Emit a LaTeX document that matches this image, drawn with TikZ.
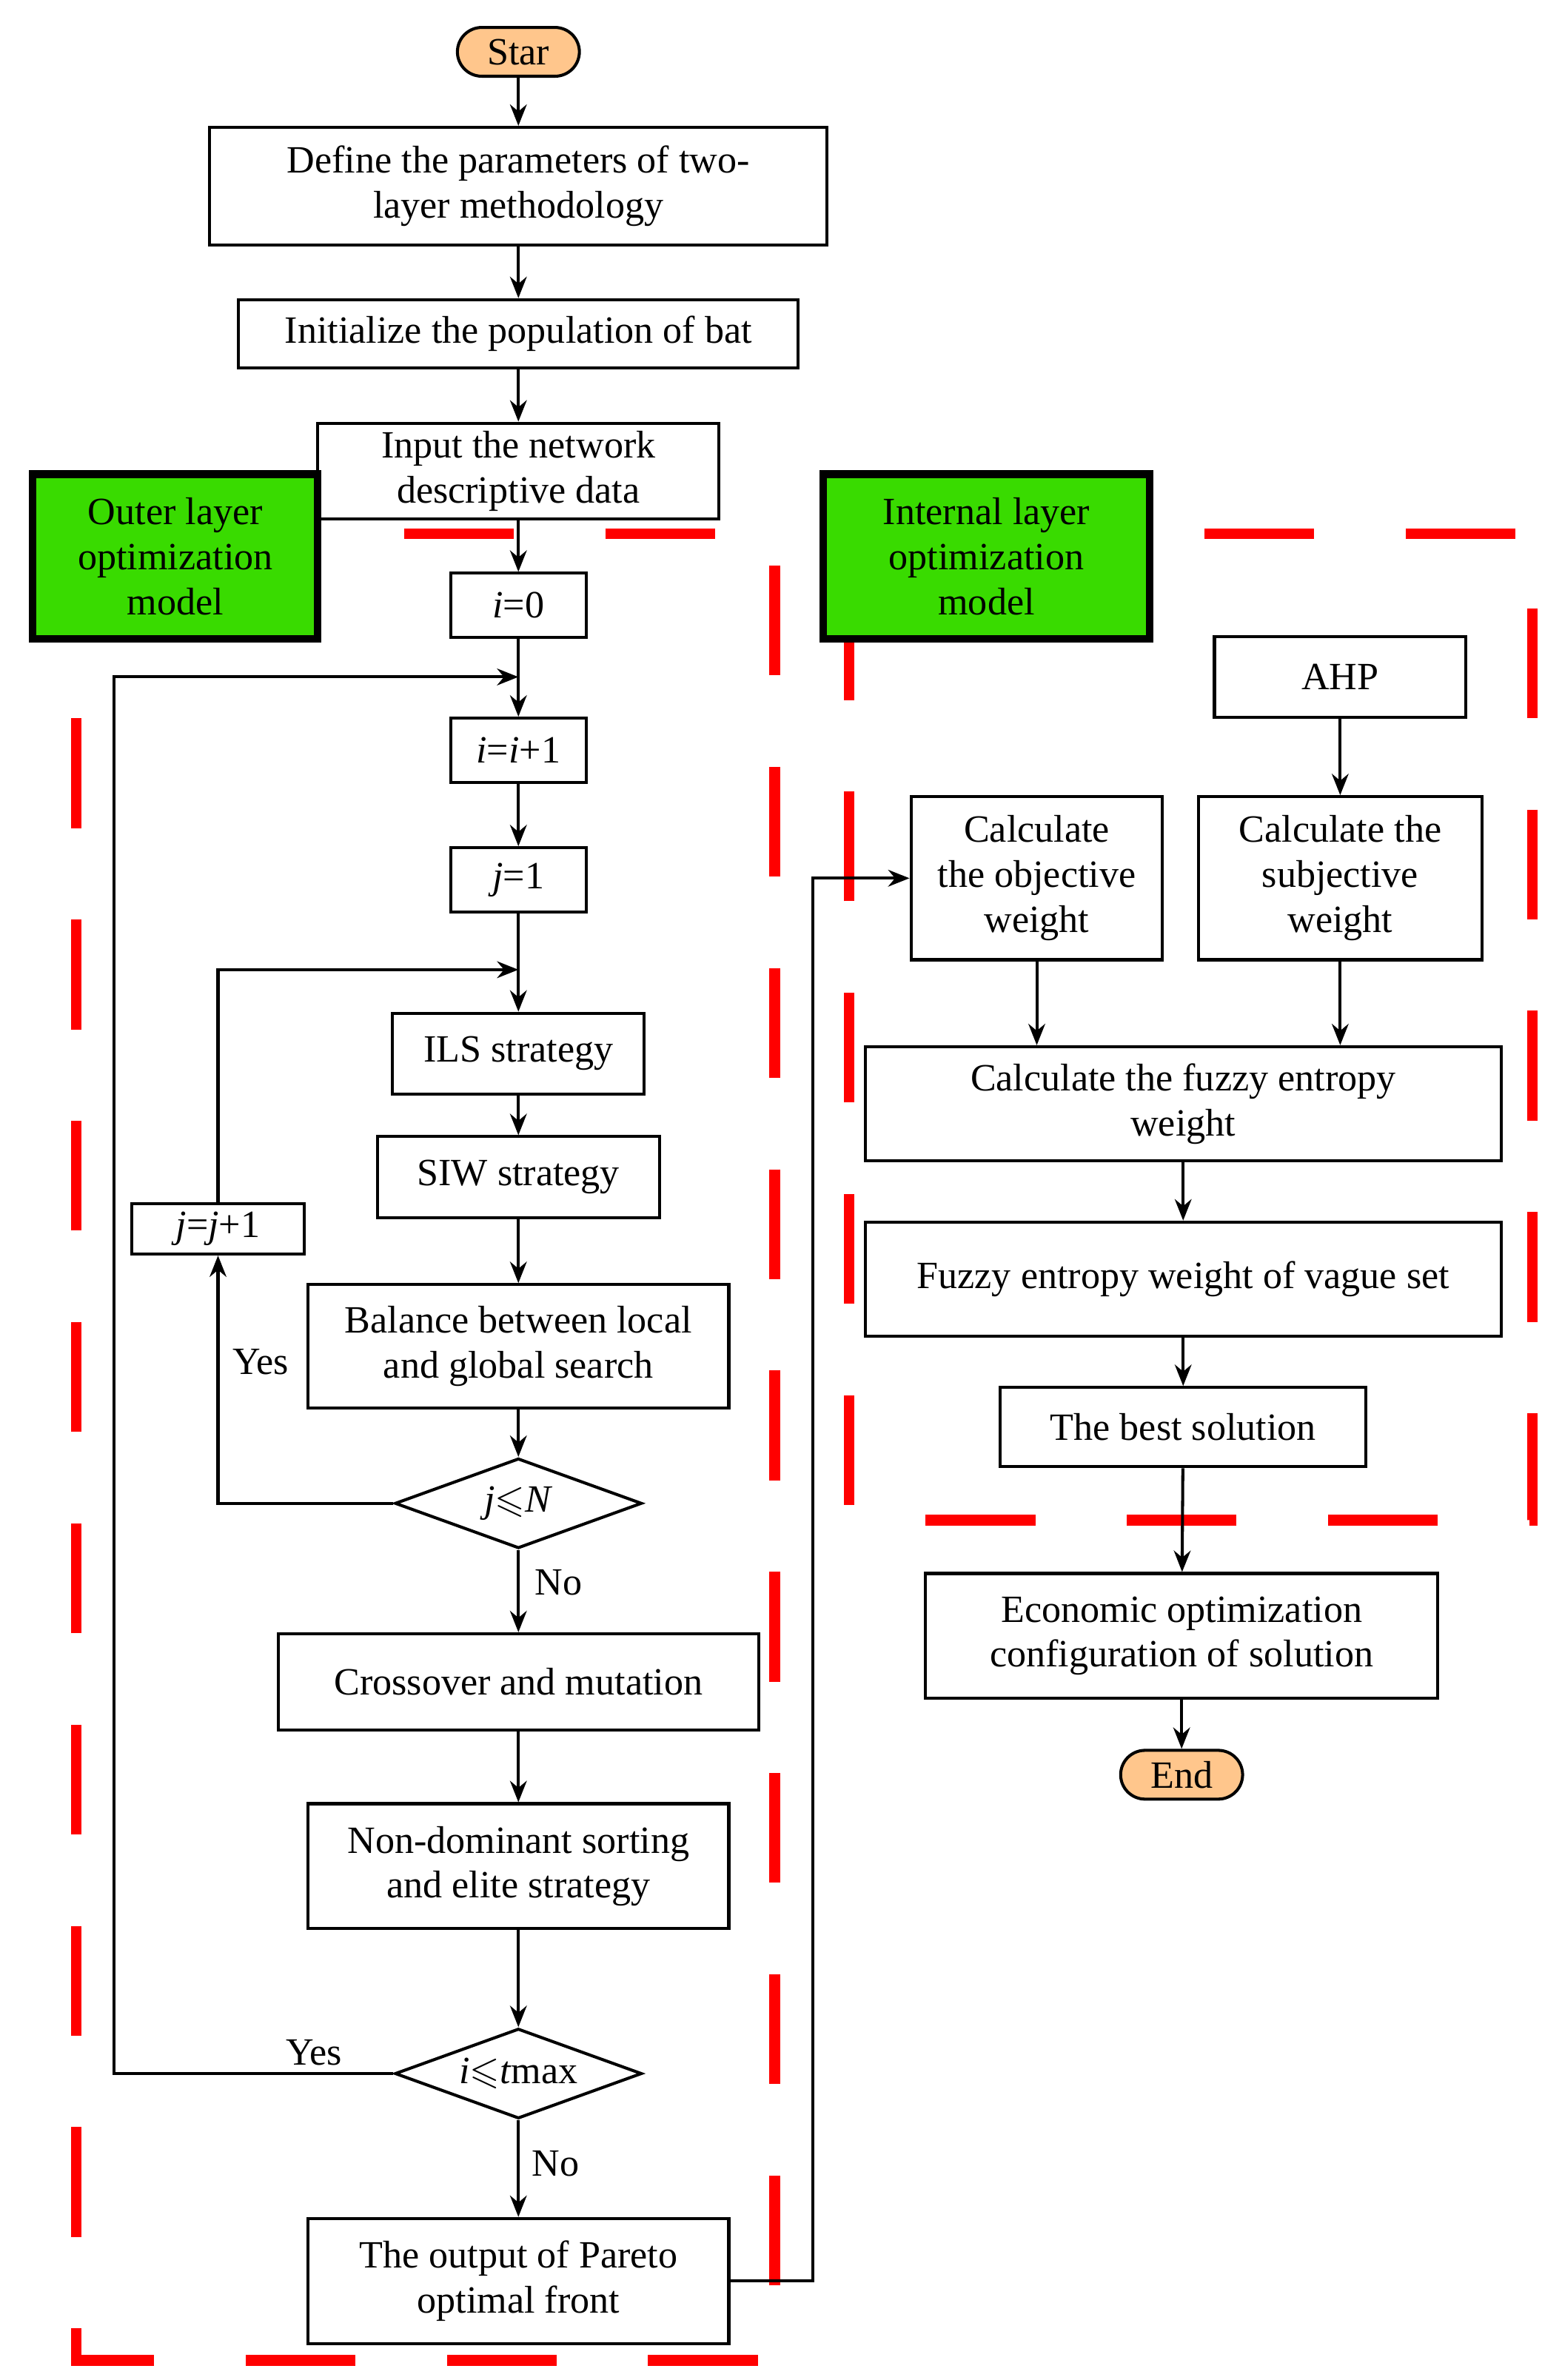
\documentclass[tikz,border=0pt]{standalone}
\usepackage{amssymb}
\usepackage{fontspec}
\setmainfont{Liberation Serif}
\usetikzlibrary{shapes.geometric,arrows.meta}
\begin{document}
\begin{tikzpicture}[x=0.05cm,y=-0.05cm,
  every node/.style={font=\fontsize{36}{42}\selectfont, align=center, inner sep=0pt},
  box/.style={draw, line width=2.8pt, minimum width=#1*0.05cm, fill=white},
  term/.style={draw, line width=2.8pt, rounded corners=0.8cm, fill=orange!45!white, minimum width=80*0.05cm, minimum height=32*0.05cm},
  lay/.style={draw, line width=7pt, fill=green!60!black!50!green!70!lime, minimum width=187*0.05cm, minimum height=108*0.05cm},
  dia/.style={draw, line width=2.8pt, diamond, aspect=2.75, minimum width=162*0.05cm, minimum height=59*0.05cm, inner sep=0pt},
  arr/.style={line width=2.8pt, -{Stealth[length=0.7cm,width=0.55cm]}},
  ln/.style={line width=2.8pt},
  red/.style={draw=red, line width=10pt, dash pattern=on 3.6cm off 3cm}]
\useasboundingbox (0,0) rectangle (1024,1561);
\fill[white] (0,0) rectangle (1024,1561);
% red dashed frames
\draw[red] (265,350) -- (508,350) -- (508,1548) -- (50,1548) -- (50,420);
\draw[red] (790,350) -- (1005,350) -- (1005,997) -- (557,997) -- (557,420);
% nodes
\node[term] (star) at (340,34) {Star};
\node[box=405, minimum height=77*0.05cm] (def) at (340,122) {Define the parameters of two-\\layer methodology};
\node[box=367, minimum height=45*0.05cm] (init) at (340,219) {Initialize the population of bat};
\node[box=263, minimum height=63*0.05cm] (inp) at (340,309) {Input the network\\descriptive data};
\node[lay] (outer) at (115,365) {Outer layer\\optimization\\model};
\node[lay, minimum width=214*0.05cm] (inner) at (647,365) {Internal layer\\optimization\\model};
\node[box=89, minimum height=42*0.05cm] (i0) at (340,397) {\textit{i}=0};
\node[box=89, minimum height=42*0.05cm] (ii) at (340,492) {\textit{i}=\textit{i}+1};
\node[box=89, minimum height=42*0.05cm] (j1) at (340,577) {\textit{j}=1};
\node[box=165, minimum height=53*0.05cm] (ils) at (340,691) {ILS strategy};
\node[box=185, minimum height=53*0.05cm] (siw) at (340,772) {SIW strategy};
\node[box=276, minimum height=81*0.05cm] (bal) at (340,883) {Balance between local\\and global search};
\node[dia] (jn) at (340,986) {\textit{j}$\leqslant$\textit{N}};
\node[box=113, minimum height=33*0.05cm] (jj) at (143,806) {\textit{j}=\textit{j}+1};
\node[box=315, minimum height=63*0.05cm] (cro) at (340,1103) {Crossover and mutation};
\node[box=276, minimum height=82*0.05cm] (non) at (340,1224) {Non-dominant sorting\\and elite strategy};
\node[dia] (it) at (340,1360) {\textit{i}$\leqslant$\textit{t}max};
\node[box=276, minimum height=82*0.05cm] (out) at (340,1496) {The output of Pareto\\optimal front};
\node[box=165, minimum height=53*0.05cm] (ahp) at (879,444) {AHP};
\node[box=165, minimum height=107*0.05cm] (obj) at (680,576) {Calculate\\the objective\\weight};
\node[box=186, minimum height=107*0.05cm] (sub) at (879,576) {Calculate the\\subjective\\weight};
\node[box=417, minimum height=75*0.05cm] (fe) at (776,724) {Calculate the fuzzy entropy\\weight};
\node[box=417, minimum height=75*0.05cm] (fv) at (776,839) {Fuzzy entropy weight of vague set};
\node[box=240, minimum height=52*0.05cm] (best) at (776,936) {The best solution};
\node[box=336, minimum height=82*0.05cm] (eco) at (775,1073) {Economic optimization\\configuration of solution};
\node[term] (end) at (775,1164) {End};
% connectors
\draw[arr] (star) -- (def);
\draw[arr] (def) -- (init);
\draw[arr] (init) -- (inp);
\draw[arr] (inp) -- (i0);
\draw[arr] (i0) -- (ii);
\draw[arr] (ii) -- (j1);
\draw[arr] (j1) -- (ils);
\draw[arr] (ils) -- (siw);
\draw[arr] (siw) -- (bal);
\draw[arr] (bal) -- (jn);
\draw[arr] (jn) -- node[right=0.5cm, pos=0.4]{No} (cro);
\draw[arr] (cro) -- (non);
\draw[arr] (non) -- (it);
\draw[arr] (it) -- node[right=0.4cm, pos=0.45]{No} (out);
\coordinate (jl) at (143,986);
\coordinate (jt) at (143,636);
\coordinate (jr) at (340,636);
\draw[arr] (jn.west) -- (jl) -- (jj.south);
\node at (171,893) {Yes};
\draw[arr] (jj.north) -- (jt) -- (jr);
\coordinate (il) at (75,1360);
\coordinate (itp) at (75,444);
\coordinate (ir) at (340,444);
\draw[arr] (it.west) -- (il) -- (itp) -- (ir);
\node[fill=white, inner xsep=2pt] at (206,1346) {Yes};
\coordinate (o1) at (533,1496);
\coordinate (o2) at (533,576);
\draw[arr] (out.east) -- (o1) -- (o2) -- (obj.west);
\draw[arr] (ahp) -- (sub);
\draw[arr] (obj.south) -- (obj.south |- fe.north);
\draw[arr] (sub.south) -- (sub.south |- fe.north);
\draw[arr] (fe) -- (fv);
\draw[arr] (fv) -- (best);
\draw[arr] (best) -- (eco);
\draw[arr] (eco) -- (end);
\end{tikzpicture}
\end{document}
